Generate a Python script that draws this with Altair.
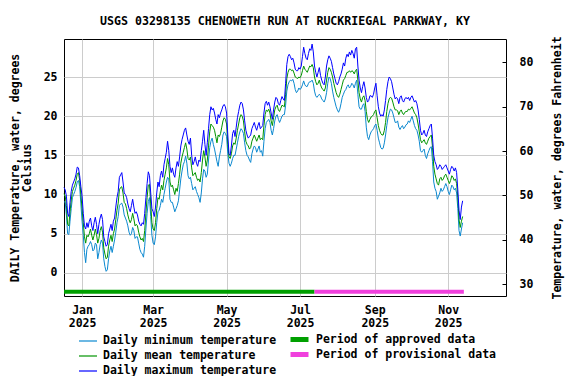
import altair as alt
import pandas as pd

# Daily readings, consecutive days starting 2024-12-17 (segments follow on from each other)
START = "2024-12-17"

tmax_s1 = [10.9, 10.6, 9.8, 7.6, 7.2, 9.0, 10.4, 11.2, 11.6, 12.0, 12.6, 13.5, 13.4, 12.4, 11.0]
tmean_s1 = [10.1, 9.8, 8.6, 6.2, 6.0, 7.8, 9.3, 10.4, 10.8, 11.2, 11.8, 12.6, 12.8, 11.8, 10.0]
tmin_s1 = [9.1, 9.0, 7.4, 5.0, 4.9, 6.6, 8.2, 9.6, 10.0, 10.4, 10.9, 11.6, 11.8, 11.0, 8.8]

tmax_s2 = [9.8, 7.6, 6.0, 5.6, 6.4, 5.8, 6.6, 7.0, 6.0, 5.4, 6.4, 7.1, 6.2, 5.0, 6.2, 7.0, 7.5, 6.8, 4.6, 4.0, 3.4, 3.6, 5.0, 5.6, 6.2, 5.4, 6.6, 7.0, 8.4, 9.6, 10.4]
tmean_s2 = [8.2, 6.4, 4.6, 3.8, 4.8, 4.6, 5.0, 5.6, 4.8, 4.2, 4.8, 5.6, 4.9, 3.8, 4.4, 5.4, 5.9, 5.2, 3.2, 2.4, 1.8, 2.0, 3.4, 4.2, 4.8, 4.0, 5.0, 5.6, 6.8, 8.0, 8.9]
tmin_s2 = [6.6, 4.8, 2.6, 1.3, 3.0, 3.4, 3.6, 4.0, 3.6, 2.8, 3.0, 3.8, 3.6, 1.8, 2.6, 3.6, 4.2, 3.8, 1.8, 0.8, 0.2, 0.4, 1.8, 2.8, 3.4, 2.6, 3.4, 4.2, 5.2, 6.4, 7.2]

tmax_s3 = [12.2, 12.5, 12.8, 11.6, 10.2, 10.0, 9.6, 8.8, 8.2, 7.8, 8.6, 9.4, 8.4, 7.6, 7.8, 7.4, 6.6, 6.2, 6.0, 6.4, 6.2, 7.6, 9.6, 11.4, 12.9, 12.4, 10.2, 8.2]
tmean_s3 = [10.6, 10.9, 11.0, 10.2, 9.0, 8.8, 8.2, 7.4, 6.8, 6.4, 6.8, 7.6, 6.9, 6.0, 6.2, 6.0, 5.2, 4.6, 4.2, 4.4, 4.0, 5.4, 7.6, 9.6, 11.2, 11.3, 8.8, 6.4]
tmin_s3 = [8.6, 8.8, 8.9, 8.4, 7.4, 7.0, 6.6, 6.0, 5.2, 4.8, 5.0, 5.8, 5.4, 4.4, 4.6, 4.6, 3.8, 3.0, 2.6, 2.4, 2.0, 3.4, 5.6, 7.6, 9.1, 9.6, 7.2, 4.8]

tmax_s4 = [7.8, 7.2, 8.4, 10.2, 11.6, 11.0, 12.4, 13.0, 12.2, 13.8, 14.6, 15.4, 16.8, 15.6, 13.6, 12.8, 13.4, 12.6, 12.2, 13.4, 14.2, 13.6, 14.8, 16.2, 17.0, 17.6, 18.2, 18.5, 17.6, 16.8]
tmean_s4 = [5.6, 5.4, 6.4, 8.2, 9.6, 9.4, 10.4, 11.2, 10.6, 11.8, 12.6, 13.4, 14.6, 13.8, 11.6, 11.0, 11.2, 10.6, 10.0, 10.8, 10.4, 11.4, 12.6, 14.0, 14.8, 15.4, 16.0, 16.6, 15.8, 14.6]
tmin_s4 = [3.8, 3.6, 4.6, 6.4, 7.8, 8.0, 8.6, 9.4, 9.0, 10.0, 10.8, 11.6, 12.2, 12.0, 9.4, 9.0, 9.0, 8.4, 7.8, 8.2, 8.6, 9.2, 10.6, 12.0, 13.0, 13.8, 14.2, 14.9, 14.0, 12.4]

tmax_s5 = [16.4, 17.2, 15.0, 13.8, 14.2, 14.8, 14.0, 13.6, 14.4, 14.2, 15.6, 16.8, 18.2, 16.4, 15.0, 16.6, 18.4, 20.2, 21.2, 20.8, 21.0, 20.4, 19.6, 19.0, 20.2, 19.8, 20.4, 20.8, 21.3, 21.5]
tmean_s5 = [14.4, 14.8, 13.4, 12.4, 12.6, 12.8, 12.2, 11.8, 12.0, 11.6, 12.8, 14.4, 15.6, 14.8, 13.6, 14.4, 16.2, 18.0, 19.0, 18.8, 18.6, 18.2, 17.4, 16.6, 17.6, 17.4, 17.8, 18.6, 19.4, 19.8]
tmin_s5 = [12.0, 12.2, 11.4, 10.6, 10.8, 11.0, 10.4, 10.0, 9.6, 9.0, 10.2, 12.0, 13.2, 13.0, 12.2, 12.6, 14.4, 16.0, 16.8, 17.2, 16.4, 15.8, 15.0, 14.2, 13.6, 14.8, 15.6, 16.4, 17.6, 18.0]

tmax_s6 = [21.2, 20.4, 17.6, 15.2, 15.0, 16.2, 17.8, 18.2, 17.4, 18.6, 19.8, 20.6, 21.4, 21.8, 21.6, 20.8, 19.4, 18.2, 17.6, 17.2, 17.4, 17.6, 18.4, 18.8, 19.2, 18.6, 18.2, 18.8, 19.2, 18.4]
tmean_s6 = [19.6, 19.0, 16.4, 14.8, 14.6, 15.2, 16.2, 16.6, 16.4, 17.2, 18.2, 19.0, 19.8, 20.2, 20.0, 19.4, 18.0, 16.8, 16.4, 16.2, 15.8, 16.0, 16.8, 17.2, 17.6, 17.2, 16.8, 17.2, 17.6, 17.0]
tmin_s6 = [17.8, 17.4, 15.2, 14.0, 13.6, 14.0, 14.6, 15.0, 15.0, 15.8, 16.6, 17.4, 18.0, 18.4, 18.2, 17.8, 16.6, 15.6, 15.0, 14.8, 14.4, 14.1, 15.2, 15.8, 16.2, 16.0, 15.4, 15.8, 16.2, 15.4]

tmax_s7 = [18.6, 18.8, 20.4, 21.6, 21.9, 21.4, 21.8, 21.2, 20.4, 19.6, 20.8, 21.8, 22.4, 22.2, 21.6, 21.4, 22.0, 22.5, 22.2, 22.0, 24.2, 26.6, 27.6, 27.9, 27.6, 27.2, 27.4, 26.8, 26.0, 25.8]
tmean_s7 = [17.2, 17.0, 18.8, 20.2, 20.8, 20.6, 20.9, 20.4, 19.4, 18.8, 19.8, 20.8, 21.2, 21.4, 20.8, 20.6, 21.0, 21.4, 21.3, 21.2, 22.8, 24.8, 25.6, 26.0, 26.0, 25.8, 25.9, 25.5, 25.0, 24.9]
tmin_s7 = [15.6, 14.9, 16.8, 18.4, 19.2, 19.4, 19.6, 19.2, 18.2, 17.6, 18.4, 19.4, 20.0, 20.2, 19.6, 19.2, 19.6, 20.0, 20.2, 20.2, 21.4, 23.2, 24.0, 24.4, 24.6, 24.5, 24.7, 24.2, 23.4, 23.0]

tmax_s8 = [25.8, 26.2, 26.0, 26.4, 27.6, 28.8, 28.0, 27.4, 27.2, 28.0, 28.6, 28.4, 29.2, 28.2, 26.4, 25.6, 25.0, 25.6, 26.2, 25.2, 24.6, 24.2, 24.0, 25.0, 26.4, 27.2, 27.7, 27.4, 27.0, 26.2, 25.4]
tmean_s8 = [24.8, 25.0, 24.9, 25.2, 25.8, 26.4, 26.0, 25.8, 25.6, 26.0, 26.4, 26.3, 26.6, 26.2, 25.0, 24.4, 24.0, 24.2, 24.6, 24.0, 23.6, 23.4, 23.2, 23.6, 24.6, 25.6, 26.2, 26.0, 25.6, 25.0, 24.2]
tmin_s8 = [23.2, 23.6, 23.4, 23.6, 24.0, 24.5, 24.0, 23.8, 23.8, 24.2, 24.4, 24.4, 24.6, 24.2, 23.2, 22.6, 22.4, 22.6, 22.8, 22.6, 22.2, 22.0, 21.8, 22.2, 23.0, 24.2, 25.0, 24.8, 24.2, 23.2, 22.4]

tmax_s9 = [24.8, 24.2, 24.0, 24.4, 25.0, 25.4, 26.0, 26.8, 26.4, 27.4, 27.9, 27.6, 28.2, 27.8, 28.4, 28.0, 27.4, 28.6, 28.8, 26.4, 24.6, 23.6, 23.0, 23.8, 24.4, 23.6, 22.4, 21.8, 22.0, 22.6]
tmean_s9 = [23.6, 23.0, 22.6, 22.4, 22.8, 23.4, 24.0, 24.6, 24.8, 25.2, 25.6, 25.6, 25.8, 25.6, 25.8, 25.7, 25.4, 25.8, 26.0, 24.6, 23.0, 22.2, 21.8, 22.4, 22.6, 22.0, 20.6, 19.6, 19.2, 19.6]
tmin_s9 = [21.8, 21.2, 20.8, 20.5, 20.9, 21.6, 22.4, 22.8, 23.2, 23.4, 23.8, 24.0, 23.6, 23.8, 24.2, 24.0, 23.6, 24.2, 24.6, 22.8, 21.2, 20.9, 20.9, 21.4, 21.6, 20.6, 18.6, 17.4, 17.0, 17.6]

tmax_s10 = [22.6, 22.4, 22.8, 23.6, 24.2, 22.6, 21.2, 20.4, 20.0, 20.2, 20.0, 20.8, 22.0, 23.4, 24.4, 25.0, 24.8, 24.4, 23.6, 22.8, 22.2, 22.4, 22.2, 21.6, 22.4, 22.6, 22.0, 21.8, 22.2, 22.4]
tmean_s10 = [19.9, 20.0, 20.2, 20.6, 20.8, 19.8, 18.8, 18.2, 17.8, 17.6, 17.6, 18.2, 19.2, 20.6, 21.6, 22.2, 22.4, 22.3, 21.8, 21.2, 20.8, 20.8, 20.7, 20.2, 20.6, 20.8, 20.4, 20.2, 20.5, 20.6]
tmin_s10 = [18.0, 18.2, 18.4, 18.8, 19.0, 18.2, 17.2, 16.6, 16.0, 15.8, 15.9, 16.6, 17.6, 18.8, 19.8, 20.4, 20.9, 20.8, 20.4, 19.8, 19.2, 19.2, 19.4, 18.6, 18.3, 18.6, 18.8, 18.4, 18.6, 18.9]

tmax_s11 = [22.2, 22.4, 22.0, 22.4, 22.6, 22.2, 21.8, 22.0, 21.6, 20.8, 19.6, 18.2, 17.6, 17.8, 18.2, 17.6, 17.4, 18.0, 18.4, 18.8, 19.0, 17.2, 15.0, 14.2, 13.8, 13.2, 13.4, 13.8, 13.6, 13.2, 13.4]
tmean_s11 = [20.6, 20.9, 20.8, 21.0, 21.2, 20.8, 20.4, 20.2, 19.8, 19.0, 18.0, 17.0, 16.6, 16.8, 17.0, 16.6, 16.4, 16.8, 17.2, 17.4, 17.6, 16.0, 13.6, 12.6, 12.0, 11.4, 11.2, 12.0, 12.2, 11.8, 12.0]
tmin_s11 = [19.0, 19.4, 19.2, 19.6, 20.0, 19.4, 18.8, 18.4, 18.2, 17.6, 16.8, 15.6, 15.4, 15.6, 15.8, 15.0, 14.6, 15.2, 15.6, 16.0, 16.1, 14.2, 11.6, 10.8, 10.4, 9.4, 9.8, 10.2, 10.8, 10.4, 10.6]

tmax_s12 = [13.6, 13.8, 13.4, 13.0, 12.6, 13.2, 13.6, 13.4, 13.0, 13.4, 12.8, 10.6, 8.0, 6.8, 8.4, 9.2]
tmean_s12 = [12.4, 12.6, 12.2, 11.8, 11.4, 11.8, 12.4, 12.2, 11.8, 12.0, 11.4, 9.6, 6.8, 5.8, 6.6, 7.2]
tmin_s12 = [11.0, 11.4, 11.0, 10.4, 10.0, 10.6, 11.2, 11.0, 10.6, 10.8, 10.2, 8.2, 5.4, 4.7, 5.6, 6.4]

series_names = ["Daily minimum temperature", "Daily mean temperature", "Daily maximum temperature"]
series_colors = ["#0a88d0", "#009400", "#0000ff"]

period_names = ["Period of approved data", "Period of provisional data"]
period_start = ["2024-12-17", "2025-07-13"]
period_end = ["2025-07-13", "2025-11-14"]
period_colors = ["#00a000", "#f040dd"]

celsius_ticks = [0, 5, 10, 15, 20, 25]
fahrenheit_ticks = [30, 40, 50, 60, 70, 80]
month_ticks = [1, 3, 5, 7, 9, 11]

TITLE = "USGS 03298135 CHENOWETH RUN AT RUCKRIEGAL PARKWAY, KY"
FONT = "DejaVu Sans Mono"
FS = 11.5


def cat(prefix):
    out = []
    for i in range(1, 13):
        out += globals()[f"{prefix}_s{i}"]
    return out


tmin, tmean, tmax = cat("tmin"), cat("tmean"), cat("tmax")

xscale = alt.Scale(
    type="utc",
    domain=[alt.DateTime(year=2024, month=12, date=17, utc=True),
            alt.DateTime(year=2025, month=12, date=19, utc=True)],
)
yscale = alt.Scale(domain=[-2.95, 29.85], nice=False, zero=False)

xaxis = alt.Axis(
    values=[alt.DateTime(year=2025, month=m, date=1, utc=True) for m in month_ticks],
    labelExpr="[utcFormat(datum.value, '%b'), utcFormat(datum.value, '%Y')]",
    grid=True, gridColor="#cccccc", ticks=False, domain=False,
    labelPadding=8, labelLineHeight=13, labelAngle=0, title=None,
)
yaxis = alt.Axis(
    values=celsius_ticks, grid=True, gridColor="#cccccc", ticks=False, domain=False,
    labelPadding=7, title=["DAILY Temperature, water, degrees", "Celsius"],
    titleLineHeight=12, titlePadding=11,
)


def one_legend(x, y, width):
    return alt.Legend(
        title=None, orient="none", legendX=x, legendY=y,
        symbolType="stroke", symbolStrokeWidth=width, symbolSize=324,
        labelOffset=5, labelLimit=0,
    )


# legend rows (relative to plot top)
line_legend_y = [292, 307, 322]
bar_legend_y = [289, 304]

layers = []
for i, (name, vals, col) in enumerate(zip(series_names, [tmin, tmean, tmax], series_colors)):
    dates = pd.date_range(START, periods=len(vals), freq="D").strftime("%Y-%m-%d")
    sdf = pd.DataFrame({"date": dates, "value": vals, "series": name})
    layers.append(
        alt.Chart(sdf).mark_line(strokeWidth=1).encode(
            x=alt.X("date:T", scale=xscale, axis=xaxis),
            y=alt.Y("value:Q", scale=yscale, axis=yaxis),
            color=alt.Color("series:N", scale=alt.Scale(domain=[name], range=[col]),
                            legend=one_legend(14, line_legend_y[i], 1.2)),
        )
    )

for i, (name, s, e, col) in enumerate(zip(period_names, period_start, period_end, period_colors)):
    pdf = pd.DataFrame({"period": [name], "start": [s], "end": [e]})
    layers.append(
        alt.Chart(pdf).mark_rule(strokeWidth=4).encode(
            x=alt.X("start:T", scale=xscale, axis=xaxis),
            x2="end:T",
            y=alt.datum(-2.42),
            color=alt.Color("period:N", scale=alt.Scale(domain=[name], range=[col]),
                            legend=one_legend(224, bar_legend_y[i], 5)),
        )
    )

inner = alt.layer(*layers).resolve_scale(color="independent")

fdf = pd.DataFrame({"F": fahrenheit_ticks})
fahr = alt.Chart(fdf).mark_tick(opacity=0).encode(
    y=alt.Y(
        "F:Q",
        scale=alt.Scale(domain=[27.3, 85.3], nice=False, zero=False),
        axis=alt.Axis(
            orient="right", values=fahrenheit_ticks, grid=False, ticks=True,
            tickSize=4, tickColor="black", domain=False, offset=-4,
            labelPadding=13, title="Temperature, water, degrees Fahrenheit",
            titleAngle=270, titlePadding=30,
        ),
    )
)

chart = (
    alt.layer(inner, fahr)
    .resolve_scale(y="independent")
    .properties(
        width=442,
        height=257,
        title=alt.TitleParams(TITLE, font=FONT, fontSize=11.6, fontWeight="bold",
                              color="black", offset=8, anchor="middle", frame="group"),
        padding={"left": 56, "top": 31, "right": 62, "bottom": 80},
        autosize=alt.AutoSizeParams(type="none"),
        background="white",
    )
    .configure_view(stroke="black", strokeWidth=1)
    .configure_axis(
        labelFont=FONT, labelFontSize=FS, labelFontWeight="bold", labelColor="black",
        titleFont=FONT, titleFontSize=FS, titleFontWeight="bold", titleColor="black",
    )
    .configure_legend(
        labelFont=FONT, labelFontSize=FS, labelFontWeight="bold", labelColor="black",
    )
)

chart.save("out.html", embed_options={"renderer": "svg", "actions": False})
